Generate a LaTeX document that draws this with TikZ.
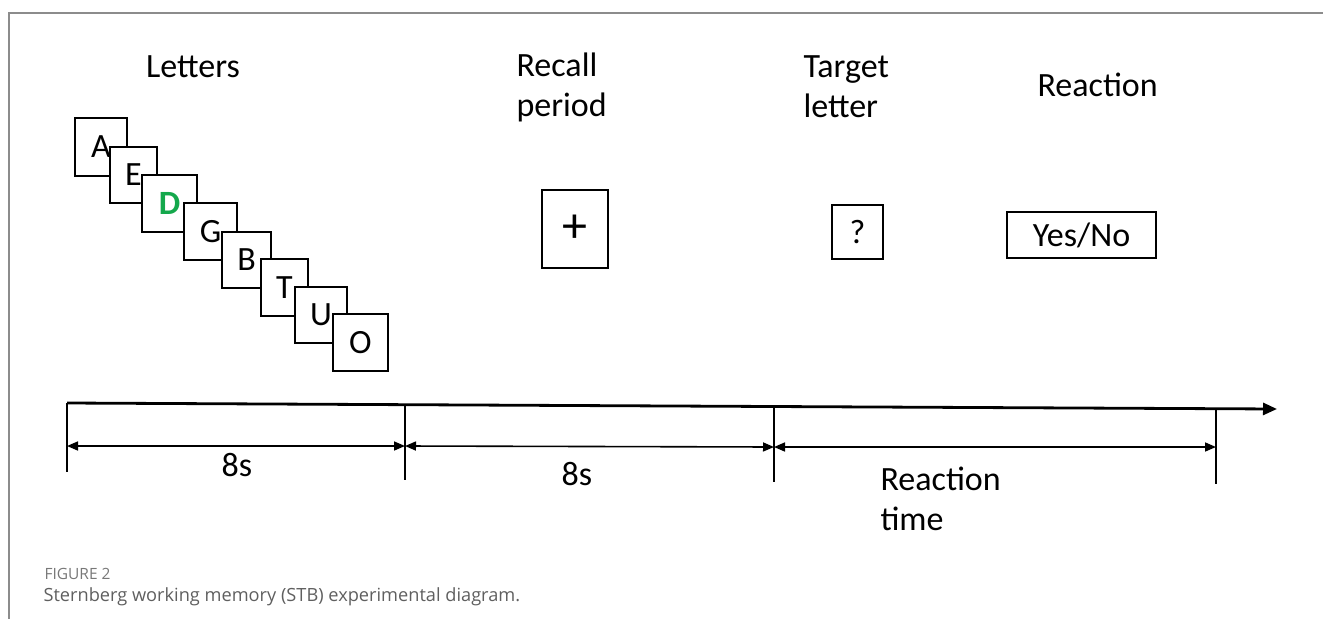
\documentclass[tikz,border=0pt]{standalone}
\usepackage{fontspec}
\setmainfont{Carlito}
\newfontfamily\capfont{Open Sans}
\usetikzlibrary{arrows.meta}
\definecolor{dgreen}{RGB}{20,168,76}
\definecolor{framegray}{RGB}{140,140,140}
\definecolor{capgray}{RGB}{120,120,120}
\definecolor{captext}{RGB}{95,95,95}
\tikzset{
  big/.style={font=\fontsize{34}{40}\selectfont},
  card/.style={draw, line width=1.4, fill=white, inner sep=0pt, big},
  axis/.style={line width=2.8, -{Triangle[length=14,width=12]}},
  tick/.style={line width=1.6},
  dim/.style={line width=1.6, {Triangle[length=11,width=9]}-{Triangle[length=11,width=9]}},
}
\begin{document}
\begin{tikzpicture}[x=1pt,y=-1pt]
\useasboundingbox (0,0) rectangle (1323,619);
% frame
\coordinate (fr1) at (1323,13); \coordinate (fr2) at (9,13); \coordinate (fr3) at (9,619);
\draw[framegray, line width=1.5] (fr1) -- (fr2) -- (fr3);
% headings
\node[big] (hLetters) at (193,67) {Letters};
\node[big, anchor=west, align=left] (hRecall) at (513,87) {Recall\\period};
\node[big, anchor=west, align=left] (hTarget) at (800,87) {Target\\letter};
\node[big, anchor=west] (hReaction) at (1034,85) {Reaction};
% letter cards
\node[card, minimum width=52, minimum height=58] (cA) at (101,147) {A};
\node[card, minimum width=47, minimum height=56] (cE) at (133.5,175) {E};
\node[card, minimum width=55, minimum height=57, text=dgreen, font=\fontsize{34}{40}\selectfont\bfseries] (cD) at (169.5,203.5) {D};
\node[card, minimum width=53, minimum height=57] (cG) at (210.5,231.5) {G};
\node[card, minimum width=49, minimum height=56] (cB) at (246.5,260) {B};
\node[card, minimum width=47, minimum height=57] (cT) at (284.5,287.5) {T};
\node[card, minimum width=52, minimum height=56] (cU) at (321,315) {U};
\node[card, minimum width=55, minimum height=57] (cO) at (360.5,342.5) {O};
% other stimuli
\node[card, minimum width=66, minimum height=78, font=\fontsize{50}{54}\selectfont] (plus) at (575,229) {+};
\node[card, minimum width=51, minimum height=54, font=\fontsize{34}{38}\selectfont] (qm) at (857.5,232) {?};
\node[card, minimum width=149, minimum height=46] (yn) at (1081.5,235) {Yes/No};
% timeline
\coordinate (s) at (67,403);
\coordinate (e) at (1277,409);
\draw[axis] (s) -- (e);
\coordinate (t0a) at (67,403);   \coordinate (t0b) at (67,472);
\coordinate (t1a) at (405,405);  \coordinate (t1b) at (405,480);
\coordinate (t2a) at (774,406);  \coordinate (t2b) at (774,482);
\coordinate (t3a) at (1216,408); \coordinate (t3b) at (1216,484);
\draw[tick] (t0a) -- (t0b);
\draw[tick] (t1a) -- (t1b);
\draw[tick] (t2a) -- (t2b);
\draw[tick] (t3a) -- (t3b);
\coordinate (d0) at (67,446); \coordinate (d1) at (405,446);
\coordinate (d2) at (774,447); \coordinate (d3) at (1216,447);
\draw[dim] (d0) -- (d1);
\draw[dim] (d1) -- (d2);
\draw[dim] (d2) -- (d3);
\node[big] (l1) at (237,465) {8s};
\node[big] (l2) at (577,474) {8s};
\node[big, anchor=west, align=left] (l3) at (877,499) {Reaction\\time};
% caption
\node[anchor=west, font=\capfont\fontsize{15.5}{18}\selectfont, text=capgray] (fig) at (41,574) {FIGURE 2};
\node[anchor=west, font=\capfont\fontsize{18.2}{21}\selectfont, text=captext] (cap) at (40,597) {Sternberg working memory (STB) experimental diagram.};
\end{tikzpicture}
\end{document}
